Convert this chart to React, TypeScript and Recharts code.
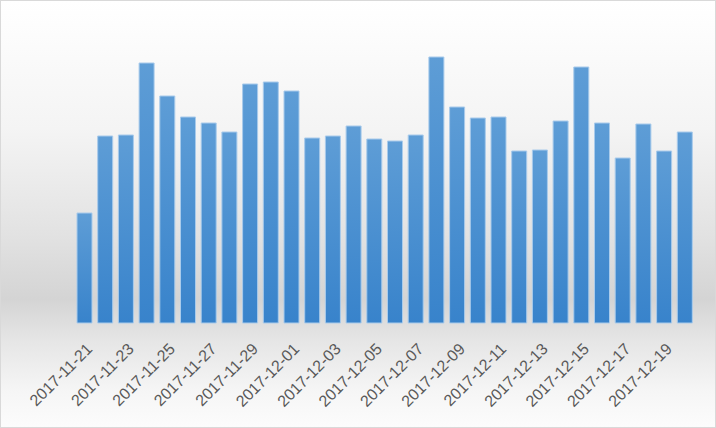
import React from "react";
import { BarChart, Bar, XAxis, YAxis } from "recharts";

// daily values, 2017-11-21 .. 2017-12-20
const dates = [
  "2017-11-21", "2017-11-22", "2017-11-23", "2017-11-24", "2017-11-25",
  "2017-11-26", "2017-11-27", "2017-11-28", "2017-11-29", "2017-11-30",
  "2017-12-01", "2017-12-02", "2017-12-03", "2017-12-04", "2017-12-05",
  "2017-12-06", "2017-12-07", "2017-12-08", "2017-12-09", "2017-12-10",
  "2017-12-11", "2017-12-12", "2017-12-13", "2017-12-14", "2017-12-15",
  "2017-12-16", "2017-12-17", "2017-12-18", "2017-12-19", "2017-12-20"
];
const values = [
  110, 187, 188, 260, 227, 206, 200, 191, 239, 241,
  232, 185, 187, 197, 184, 182, 188, 266, 216, 205,
  206, 172, 173, 202, 256, 200, 165, 199, 172, 191
];

const data = dates.map((d, i) => ({ date: d, value: values[i] }));

const DateTick = ({ x, y, payload }: any) => (
  <text
    transform={`translate(${x + 9},${y + 19}) rotate(-45)`}
    textAnchor="end"
    fontSize={16}
    fill="#595959"
    fontFamily="'Liberation Sans Narrow', 'Liberation Sans', Arial, sans-serif"
  >
    {payload.value}
  </text>
);

export default function App() {
  return (
    <div
      style={{
        position: "absolute",
        left: 0,
        top: 0,
        width: 714,
        height: 426,
        border: "1px solid #d9d9d9",
        background:
          "linear-gradient(to bottom, #ffffff 0%, #f4f4f4 30%, #e2e2e2 55%, #d4d4d4 70%, #e6e6e6 80%, #f6f6f6 92%, #fcfcfc 100%)"
      }}
    >
      <BarChart
        width={714}
        height={426}
        data={data}
        margin={{ top: 22, right: 20, left: 73, bottom: 0 }}
        barSize={15}
      >
        <defs>
          <linearGradient id="barFill" x1="0" y1="0" x2="0" y2="1">
            <stop offset="0%" stopColor="#5e9dd6" />
            <stop offset="100%" stopColor="#3883cb" />
          </linearGradient>
        </defs>
        <XAxis
          dataKey="date"
          interval={1}
          height={104}
          tickLine={false}
          axisLine={false}
          tick={<DateTick />}
        />
        <YAxis hide domain={[0, 300]} />
        <Bar
          dataKey="value"
          fill="url(#barFill)"
          stroke="#a9cbeb"
          strokeWidth={1}
          isAnimationActive={false}
        />
      </BarChart>
    </div>
  );
}
